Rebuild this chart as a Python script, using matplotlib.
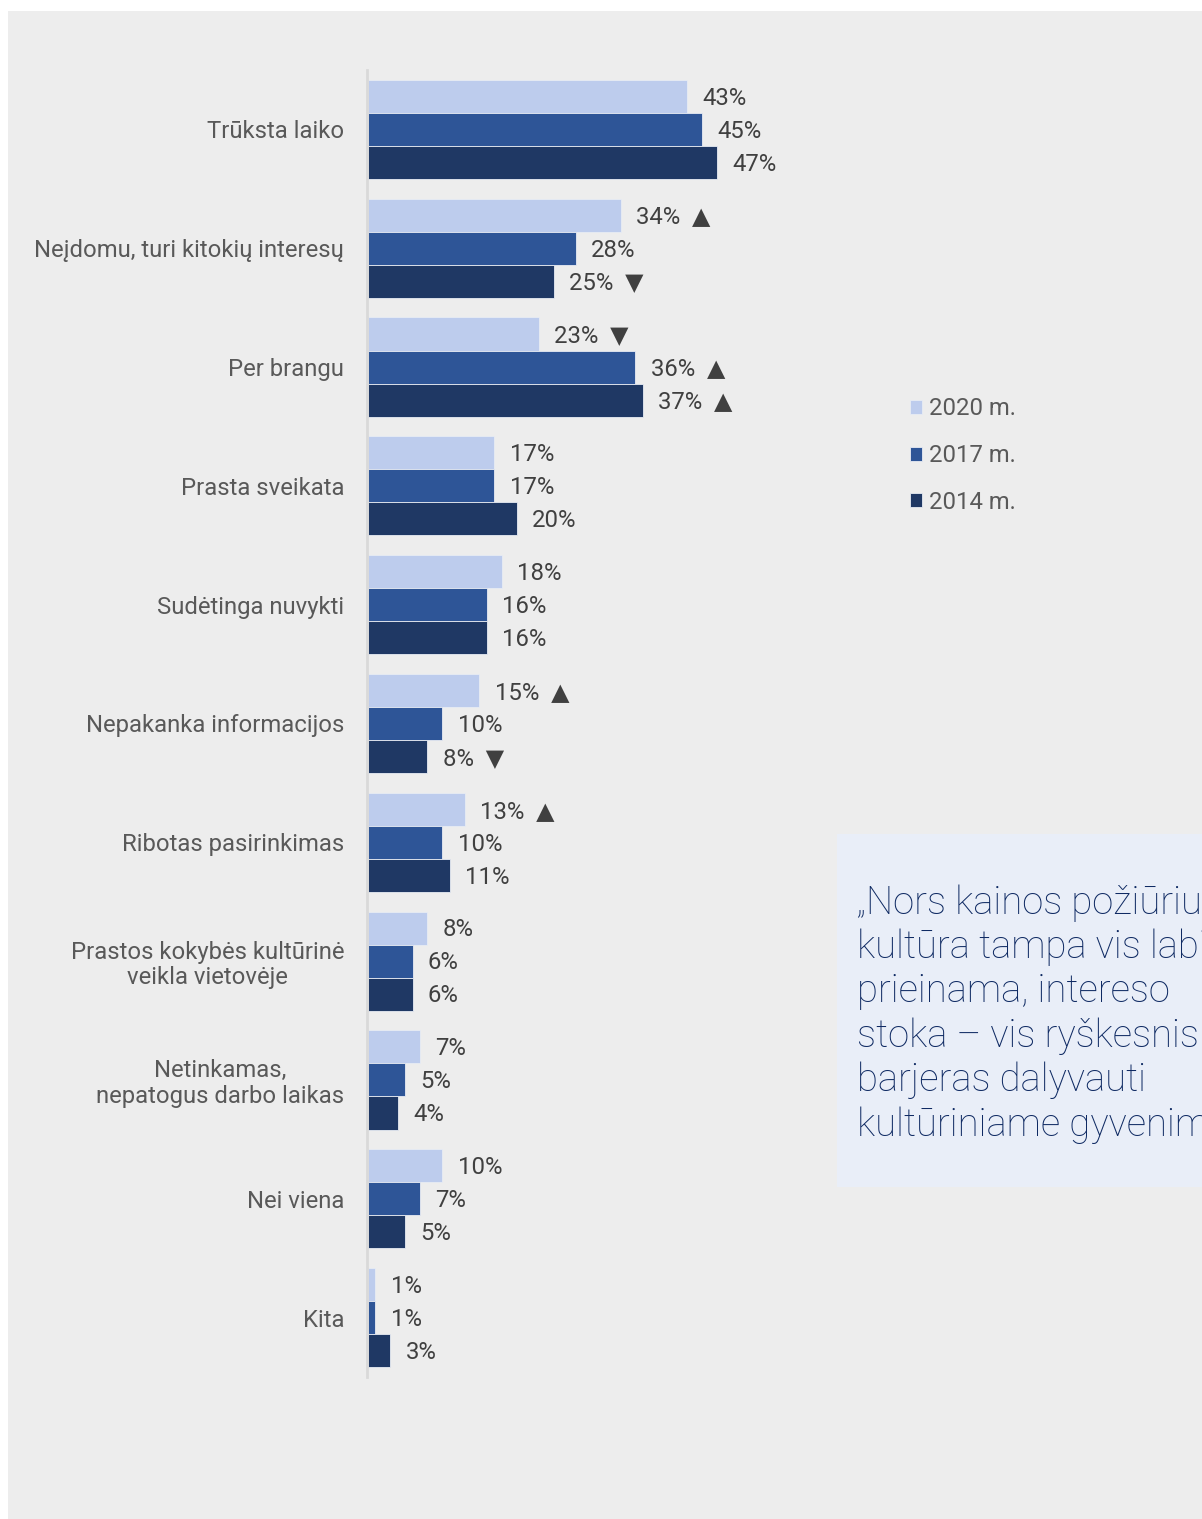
import matplotlib
matplotlib.use("Agg")
import matplotlib.pyplot as plt
from matplotlib.patches import Rectangle
import numpy as np

categories = [
    "Trūksta laiko",
    "Neįdomu, turi kitokių interesų",
    "Per brangu",
    "Prasta sveikata",
    "Sudėtinga nuvykti",
    "Nepakanka informacijos",
    "Ribotas pasirinkimas",
    "Prastos kokybės kultūrinė\nveikla vietovėje",
    "Netinkamas,\nnepatogus darbo laikas",
    "Nei viena",
    "Kita",
]
series_names = ["2020 m.", "2017 m.", "2014 m."]
v2020 = [43, 34, 23, 17, 18, 15, 13, 8, 7, 10, 1]
v2017 = [45, 28, 36, 17, 16, 10, 10, 6, 5, 7, 1]
v2014 = [47, 25, 37, 20, 16, 8, 11, 6, 4, 5, 3]
# significance markers: "" none, "▲" up, "▼" down
m2020 = ["", "▲", "▼", "", "", "▲", "▲", "", "", "", ""]
m2017 = ["", "", "▲", "", "", "", "", "", "", "", ""]
m2014 = ["", "▼", "▲", "", "", "▼", "", "", "", "", ""]
quote = ("„Nors kainos požiūriu\nkultūra tampa vis labiau\nprieinama, intereso\n"
         "stoka – vis ryškesnis\nbarjeras dalyvauti\nkultūriniame gyvenime“")

colors = ["#bdcced", "#2e5597", "#1f3864"]
W, H = 1202, 1519
fig = plt.figure(figsize=(W / 100, H / 100), dpi=100)
fig.patch.set_facecolor("white")
fig.patches.append(Rectangle((8 / W, 0), 1, 1 - 11 / H, transform=fig.transFigure,
                             facecolor="#ededed", edgecolor="none", zorder=-2))
fig.patches.append(Rectangle((837 / W, 1 - 1187 / H), 1, (1187 - 834) / H,
                             transform=fig.transFigure, facecolor="#e9eef8",
                             edgecolor="none", zorder=-1))

ax_left, ax_top, ax_bot = 368, 70, 1377
ax_w = 470
ax = fig.add_axes([ax_left / W, 1 - ax_bot / H, ax_w / W, (ax_bot - ax_top) / H])
ax.set_zorder(2)
ax.set_facecolor("none")
for s in ["top", "right", "bottom"]:
    ax.spines[s].set_visible(False)
ax.spines["left"].set_position(("data", -0.12))
ax.spines["left"].set_color("#d9d9d9")
ax.spines["left"].set_linewidth(2)
ax.set_xlim(0, ax_w / 7.43)
ax.set_ylim(len(categories) - 0.5, -0.5)

fam = ["Roboto", "DejaVu Sans"]
fs = 17.2
y = np.arange(len(categories))
h = 0.278
allvals = [v2020, v2017, v2014]
allmarks = [m2020, m2017, m2014]
for k, (vals, marks) in enumerate(zip(allvals, allmarks)):
    pos = y + (k - 1) * h
    ax.barh(pos, vals, height=h, color=colors[k], edgecolor="#e8ecf4",
            linewidth=0.6, label=series_names[k], zorder=2)
    for p, v, m in zip(pos, vals, marks):
        txt = f"{v}%" + (f"  {m}" if m else "")
        ax.text(v + 2.05, p + 0.015, txt, va="center", ha="left", fontsize=fs,
                color="#404040", family=fam)

ax.set_xticks([])
ax.set_yticks(y)
ax.set_yticklabels(categories)
ax.tick_params(axis="y", length=0, pad=16.5)
for lab in ax.get_yticklabels():
    lab.set_fontfamily(fam)
    lab.set_fontsize(fs)
    lab.set_color("#595959")
    lab.set_multialignment("center")
    lab.set_linespacing(1.15)

leg = fig.legend(loc="upper left", bbox_to_anchor=(888 / W, 1 - 376 / H),
                 frameon=False, handlelength=0.53, handleheight=0.53,
                 handletextpad=0.28, labelspacing=0.99, prop={"family": fam, "size": fs})
for t in leg.get_texts():
    t.set_color("#595959")

fig.text(857 / W, 1 - 884 / H, quote, ha="left", va="top", fontsize=27.5,
         color="#0f2a63", family=fam, fontweight="light", linespacing=1.235)

fig.savefig("out.png", dpi=100, facecolor=fig.get_facecolor())
